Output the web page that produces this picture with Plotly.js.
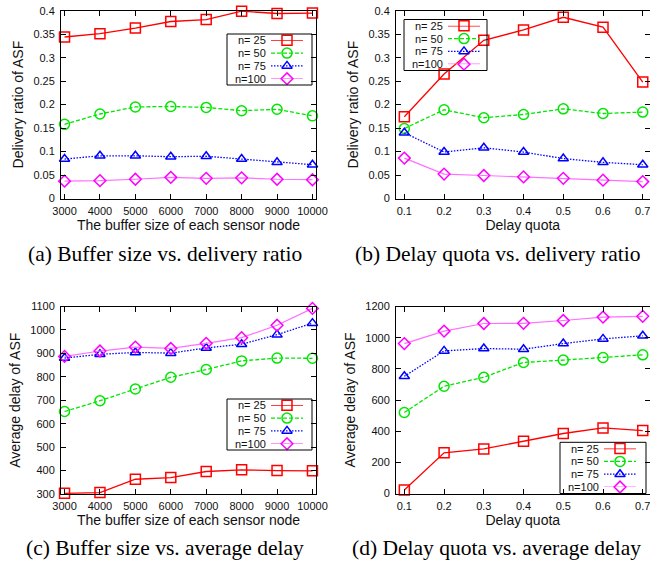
<!DOCTYPE html>
<html><head><meta charset="utf-8">
<script src="https://cdn.plot.ly/plotly-3.0.1.min.js"></script>
<style>html,body{margin:0;padding:0;background:#fff}#chart{width:650px;height:561px}</style>
</head><body><div id="chart"></div>
<script>
// ---- data ----
const bufferSizes = [3000, 4000, 5000, 6000, 7000, 8000, 9000, 10000];
const delayQuotas = [0.1, 0.2, 0.3, 0.4, 0.5, 0.6, 0.7];
const seriesNames = ['n= 25', 'n= 50', 'n= 75', 'n=100'];

// (a) buffer size vs delivery ratio
const ratioBuf25  = [0.344, 0.351, 0.363, 0.377, 0.381, 0.399, 0.394, 0.395];
const ratioBuf50  = [0.158, 0.180, 0.195, 0.196, 0.194, 0.187, 0.190, 0.176];
const ratioBuf75  = [0.084, 0.091, 0.091, 0.089, 0.090, 0.084, 0.077, 0.072];
const ratioBuf100 = [0.037, 0.038, 0.041, 0.045, 0.043, 0.044, 0.041, 0.040];
// (b) delay quota vs delivery ratio
const ratioDq25  = [0.174, 0.265, 0.337, 0.359, 0.386, 0.365, 0.248];
const ratioDq50  = [0.149, 0.189, 0.172, 0.179, 0.191, 0.181, 0.184];
const ratioDq75  = [0.140, 0.099, 0.108, 0.099, 0.085, 0.077, 0.072];
const ratioDq100 = [0.086, 0.052, 0.049, 0.046, 0.043, 0.039, 0.036];
// (c) buffer size vs average delay
const delayBuf25  = [303, 306, 363, 370, 396, 403, 400, 399];
const delayBuf50  = [652, 698, 748, 798, 831, 868, 880, 879];
const delayBuf75  = [880, 896, 904, 901, 923, 939, 980, 1029];
const delayBuf100 = [887, 910, 927, 921, 943, 967, 1020, 1092];
// (d) delay quota vs average delay
const delayDq25  = [22, 261, 286, 335, 385, 421, 404];
const delayDq50  = [520, 688, 746, 841, 856, 873, 890];
const delayDq75  = [752, 915, 930, 926, 962, 992, 1012];
const delayDq100 = [962, 1042, 1091, 1092, 1110, 1132, 1137];

const captions = ['(a) Buffer size vs. delivery ratio', '(b) Delay quota vs. delivery ratio',
                  '(c) Buffer size vs. average delay', '(d) Delay quota vs. average delay'];
const xTitles = ['The buffer size of each sensor node', 'Delay quota'];
const yTitles = ['Delivery ratio of ASF', 'Average delay of ASF'];

// ---- styles ----
const W = 650, H = 561;
const px = x => x / W, py = y => 1 - y / H;
const colors = ['#ff0000', '#00e600', '#0000ff', '#ff00ff'];
const lineColors = ['#ff0000', '#00e600', '#0000ff', '#ff70ff'];
const dashes = ['solid', '4px,2px', '1.5px,1.5px', 'solid'];
const symbols = ['square-open', 'circle-open', 'triangle-up-open', 'diamond-open'];
const msizes = [10, 10, 9, 9];
const SANS = 'Liberation Sans, Arial, sans-serif';
const SERIF = 'Liberation Serif, Times New Roman, serif';

const panels = [
  {x: bufferSizes, ys: [ratioBuf25, ratioBuf50, ratioBuf75, ratioBuf100],
   dom: [61, 316, 10.7, 198.5], xr: [2900, 10100], yr: [0, 0.4], xd: 1000, yd: 0.05, t0: 3000, fmt: 'd',
   xt: xTitles[0], yt: yTitles[0], leg: [227, 34, 85, 51]},
  {x: delayQuotas, ys: [ratioDq25, ratioDq50, ratioDq75, ratioDq100],
   dom: [396, 649.5, 10.7, 198.5], xr: [0.079, 0.717], yr: [0, 0.4], xd: 0.1, yd: 0.05, t0: 0.1, fmt: '',
   xt: xTitles[1], yt: yTitles[0], leg: [404, 19.5, 83, 51]},
  {x: bufferSizes, ys: [delayBuf25, delayBuf50, delayBuf75, delayBuf100],
   dom: [61, 316, 306.5, 494], xr: [2900, 10100], yr: [300, 1100], xd: 1000, yd: 100, t0: 3000, fmt: 'd',
   xt: xTitles[0], yt: yTitles[1], leg: [227, 399, 85, 51]},
  {x: delayQuotas, ys: [delayDq25, delayDq50, delayDq75, delayDq100],
   dom: [396, 649.5, 306.5, 493.5], xr: [0.079, 0.717], yr: [0, 1200], xd: 0.1, yd: 200, t0: 0.1, fmt: '',
   xt: xTitles[1], yt: yTitles[1], leg: [560, 442.3, 86, 51.2]}
];
const captionPos = [[165, 254], [497, 254], [165, 548], [496, 548]];

const data = [];
const layout = {
  width: W, height: H, margin: {l: 0, r: 0, t: 0, b: 0},
  paper_bgcolor: '#fff', plot_bgcolor: 'rgba(0,0,0,0)',
  showlegend: false, font: {family: SANS, color: '#000'},
  annotations: [], shapes: []
};

const axisBase = {
  showline: true, linecolor: '#000', linewidth: 1, mirror: 'allticks',
  ticks: 'inside', ticklen: 5, tickwidth: 1, tickcolor: '#000',
  showgrid: false, zeroline: false, tickfont: {family: SANS, size: 11, color: '#111'},
  ticklabeloverflow: 'allow', fixedrange: true
};

panels.forEach((p, k) => {
  const n = k + 1;
  const xa = 'xaxis' + (n === 1 ? '' : n), ya = 'yaxis' + (n === 1 ? '' : n);
  const xr = 'x' + (n === 1 ? '' : n), yr = 'y' + (n === 1 ? '' : n);
  layout[xa] = Object.assign({}, axisBase, {
    domain: [px(p.dom[0]), px(p.dom[1])], range: p.xr, tickmode: 'linear', tick0: p.t0, dtick: p.xd,
    tickformat: p.fmt, anchor: yr, ticklabelstandoff: 2,
    title: {text: p.xt, font: {family: SANS, size: 14, color: '#111'}, standoff: 3}
  });
  layout[ya] = Object.assign({}, axisBase, {
    domain: [py(p.dom[3]), py(p.dom[2])], range: p.yr, tickmode: 'linear', tick0: 0, dtick: p.yd,
    anchor: xr, ticklabelstandoff: 3,
    title: {text: p.yt, font: {family: SANS, size: 14, color: '#111'}, standoff: 6}
  });
  p.ys.forEach((vals, i) => {
    data.push({
      type: 'scatter', mode: 'lines+markers', x: p.x, y: vals, name: seriesNames[i],
      xaxis: xr, yaxis: yr, cliponaxis: false,
      line: {color: lineColors[i], width: i === 3 ? 1.2 : 1.3, dash: dashes[i]},
      marker: {symbol: symbols[i], size: msizes[i], color: colors[i], line: {color: colors[i], width: 1.5}}
    });
  });

  // legend (gnuplot style key): box, right-aligned labels, sample line + marker
  const [lx, ly, lw, lh] = p.leg;
  layout.shapes.push({type: 'rect', xref: 'paper', yref: 'paper',
    x0: px(lx), x1: px(lx + lw), y0: py(ly + lh), y1: py(ly), line: {color: '#000', width: 1}});
  const ln = n + 4;
  const lxa = 'xaxis' + ln, lya = 'yaxis' + ln;
  const rowTop = ly + 6.3, rowStep = 12.8;
  layout[lxa] = {domain: [px(lx + 44), px(lx + 76)], range: [0, 1], visible: false, anchor: 'y' + ln, fixedrange: true};
  layout[lya] = {domain: [py(rowTop + 3 * rowStep), py(rowTop)], range: [3, 0], visible: false, anchor: 'x' + ln, fixedrange: true};
  seriesNames.forEach((name, i) => {
    data.push({type: 'scatter', mode: 'lines', x: [0, 1], y: [i, i], xaxis: 'x' + ln, yaxis: 'y' + ln,
      cliponaxis: false, hoverinfo: 'skip',
      line: {color: lineColors[i], width: i === 3 ? 1.2 : 1.3, dash: dashes[i]}});
    data.push({type: 'scatter', mode: 'markers', x: [0.5], y: [i], xaxis: 'x' + ln, yaxis: 'y' + ln,
      cliponaxis: false, hoverinfo: 'skip',
      marker: {symbol: symbols[i], size: msizes[i], color: colors[i], line: {color: colors[i], width: 1.5}}});
    layout.annotations.push({xref: 'paper', yref: 'paper', x: px(lx + 40), y: py(rowTop + i * rowStep),
      xanchor: 'right', yanchor: 'middle', showarrow: false, text: name, borderpad: 0,
      font: {family: SANS, size: 11, color: '#111'}});
  });

  layout.annotations.push({xref: 'paper', yref: 'paper', x: px(captionPos[k][0]), y: py(captionPos[k][1]),
    xanchor: 'center', yanchor: 'middle', showarrow: false, text: captions[k],
    font: {family: SERIF, size: 21.5, color: '#000'}});
});

Plotly.newPlot('chart', data, layout, {displayModeBar: false, staticPlot: true});
</script></body></html>
